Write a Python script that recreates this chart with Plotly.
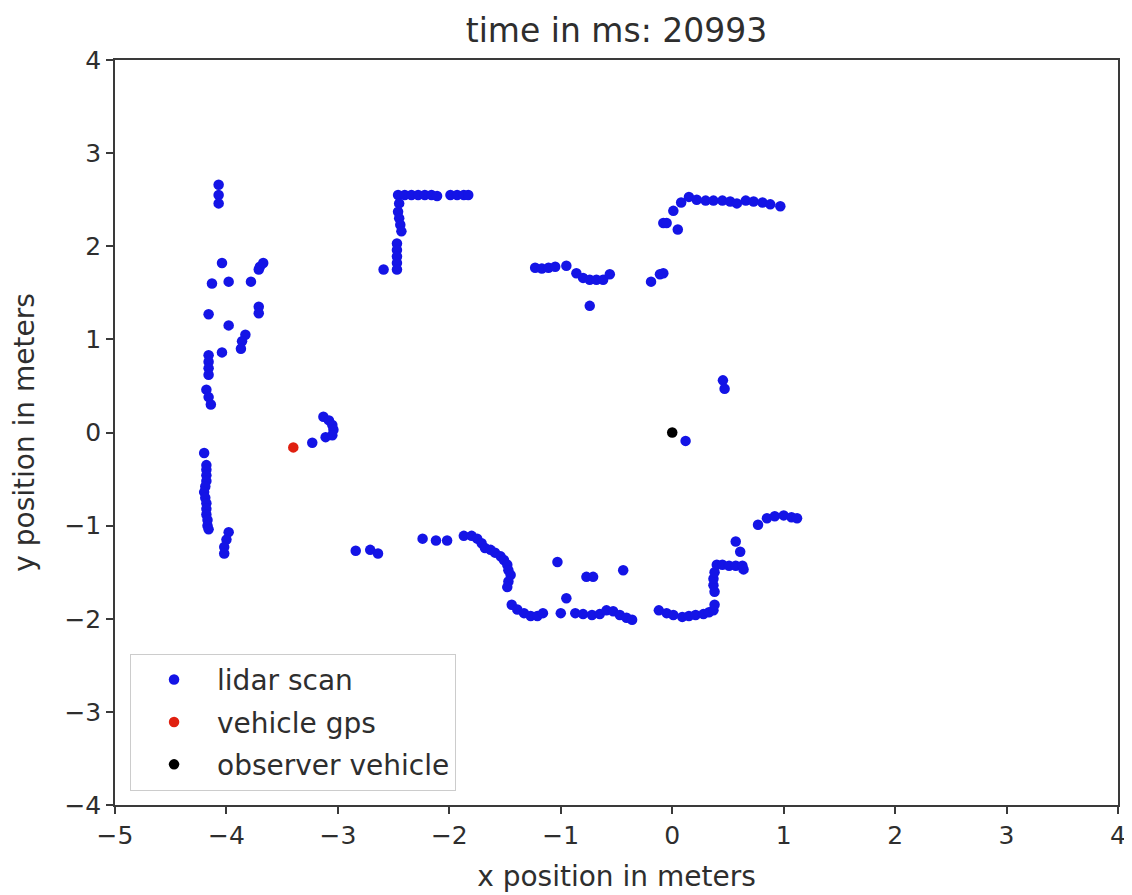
import plotly.graph_objects as go

# ---- data ----
lidar_x = [
    -4.07, -4.07, -4.07, -4.04, -4.13, -3.98, -3.78, -3.71, -3.70, -3.67,
    -4.16, -3.71, -3.71, -3.98, -3.83, -3.86, -3.87, -4.04,
    -4.16, -4.16, -4.16, -4.16, -4.18, -4.16, -4.14,
    -4.20, -4.18, -4.18, -4.18, -4.18, -4.19, -4.20, -4.19, -4.18, -4.18, -4.18, -4.17, -4.17, -4.16,
    -3.98, -4.00, -4.02, -4.02,
    -3.23, -3.11, -3.13, -3.08, -3.05, -3.04, -3.05,
    -2.46, -2.40, -2.34, -2.28, -2.22, -2.16, -2.11, -1.99, -1.93, -1.87, -1.83,
    -2.45, -2.46, -2.45, -2.44, -2.43,
    -2.47, -2.47, -2.47, -2.47, -2.47, -2.59,
    -1.23, -1.17, -1.11, -1.05, -0.95,
    -0.86, -0.80, -0.74, -0.68, -0.62, -0.56,
    -0.74,
    -0.19, -0.11, -0.08,
    -0.08, -0.05, 0.05, 0.01, 0.08, 0.15,
    0.22, 0.30, 0.37, 0.45, 0.52, 0.58, 0.66, 0.73, 0.81, 0.88, 0.97,
    0.455, 0.47,
    0.12,
    -2.84, -2.71, -2.64,
    -2.24, -2.12, -2.02,
    -1.87, -1.80, -1.75,
    -1.71, -1.68, -1.63, -1.59, -1.54, -1.51, -1.48, -1.47, -1.45, -1.47, -1.48,
    -1.44, -1.39, -1.33, -1.27, -1.21, -1.16,
    -1.03, -0.95, -1.00,
    -0.77, -0.71,
    -0.44,
    -0.87, -0.80, -0.72, -0.65, -0.59, -0.53, -0.47, -0.41, -0.36,
    -0.12,
    -0.05, 0.01, 0.09, 0.15, 0.21, 0.28, 0.33, 0.37, 0.38,
    0.38, 0.37, 0.37, 0.38, 0.40,
    0.45, 0.51, 0.57, 0.63, 0.64,
    0.57, 0.61,
    0.77, 0.85, 0.92, 1.00, 1.07, 1.12,
]
lidar_y = [
    2.66, 2.55, 2.46, 1.82, 1.60, 1.62, 1.62, 1.75, 1.78, 1.82,
    1.27, 1.35, 1.28, 1.15, 1.05, 0.98, 0.90, 0.86,
    0.83, 0.76, 0.69, 0.62, 0.46, 0.38, 0.30,
    -0.22, -0.35, -0.40, -0.46, -0.52, -0.58, -0.64, -0.70, -0.76, -0.82, -0.88, -0.94, -1.00, -1.04,
    -1.07, -1.15, -1.23, -1.30,
    -0.11, -0.05, 0.17, 0.13, 0.08, 0.03, -0.03,
    2.55, 2.55, 2.55, 2.55, 2.55, 2.55, 2.54, 2.55, 2.55, 2.55, 2.55,
    2.46, 2.37, 2.30, 2.23, 2.16,
    2.03, 1.96, 1.89, 1.82, 1.75, 1.75,
    1.77, 1.76, 1.77, 1.78, 1.79,
    1.71, 1.66, 1.64, 1.64, 1.64, 1.70,
    1.36,
    1.62, 1.70, 1.71,
    2.25, 2.25, 2.18, 2.38, 2.47, 2.53,
    2.50, 2.49, 2.49, 2.49, 2.48, 2.46, 2.49, 2.48, 2.47, 2.45, 2.43,
    0.56, 0.47,
    -0.09,
    -1.27, -1.26, -1.30,
    -1.14, -1.16, -1.16,
    -1.11, -1.11, -1.14,
    -1.19, -1.24, -1.26, -1.29, -1.33, -1.37, -1.42, -1.48, -1.53, -1.60, -1.66,
    -1.85, -1.90, -1.94, -1.97, -1.97, -1.94,
    -1.39, -1.78, -1.94,
    -1.55, -1.55,
    -1.48,
    -1.94, -1.95, -1.96, -1.95, -1.91, -1.92, -1.96, -1.99, -2.01,
    -1.91,
    -1.94, -1.96, -1.98, -1.97, -1.96, -1.95, -1.93, -1.91, -1.85,
    -1.71, -1.64, -1.57, -1.50, -1.42,
    -1.42, -1.43, -1.43, -1.43, -1.47,
    -1.17, -1.28,
    -0.99, -0.92, -0.90, -0.89, -0.91, -0.92,
]
gps_x = [-3.40]
gps_y = [-0.16]
observer_x = [0.0]
observer_y = [0.0]

title_text = "time in ms: 20993"
x_ticks = [-5, -4, -3, -2, -1, 0, 1, 2, 3, 4]
y_ticks = [-4, -3, -2, -1, 0, 1, 2, 3, 4]

FONT = "DejaVu Sans"
TXT = "#2e2e2e"
AX = "#3a3a3a"

fig = go.Figure()
fig.add_trace(go.Scatter(x=lidar_x, y=lidar_y, mode="markers", name="lidar scan",
                         legendgroup="a", marker=dict(color="#1414e6", size=10.5)))
fig.add_trace(go.Scatter(x=gps_x, y=gps_y, mode="markers", name="vehicle gps",
                         legendgroup="b", marker=dict(color="#e02010", size=10.5)))
fig.add_trace(go.Scatter(x=observer_x, y=observer_y, mode="markers", name="observer vehicle",
                         legendgroup="c", marker=dict(color="#000000", size=10.5)))

axis_common = dict(
    showgrid=False, zeroline=False, showline=True, linecolor=AX, linewidth=1.5,
    mirror=True, ticks="outside", ticklen=7, tickwidth=1.5, tickcolor=AX,
    tickfont=dict(family=FONT, size=25, color=TXT), automargin=False,
)

# page body has an 8px default margin, so margins are shifted to compensate
fig.update_layout(
    width=1132, height=895,
    margin=dict(l=107, r=22, t=52, b=98),
    paper_bgcolor="white", plot_bgcolor="white",
    font=dict(family=FONT, color=TXT),
    title=dict(text=title_text, x=(107 + 1110) / 2 / 1132, xanchor="center",
               y=1 - 22 / 895, yanchor="middle", yref="container",
               font=dict(family=FONT, size=33, color=TXT)),
    xaxis=dict(range=[-5, 4], tickvals=x_ticks,
               title=dict(text="x position in meters", standoff=18,
                          font=dict(family=FONT, size=28, color=TXT)),
               **axis_common),
    yaxis=dict(range=[-4, 4], tickvals=y_ticks,
               title=dict(text="y position in meters", standoff=22,
                          font=dict(family=FONT, size=28, color=TXT)),
               **axis_common),
    legend=dict(x=0.015, y=0.019, xanchor="left", yanchor="bottom",
                bgcolor="rgba(255,255,255,0.9)", bordercolor="#cccccc", borderwidth=1,
                font=dict(family=FONT, size=28, color=TXT),
                traceorder="grouped", tracegroupgap=3,
                itemwidth=76),
    showlegend=True,
)

fig.write_html("out.html")
